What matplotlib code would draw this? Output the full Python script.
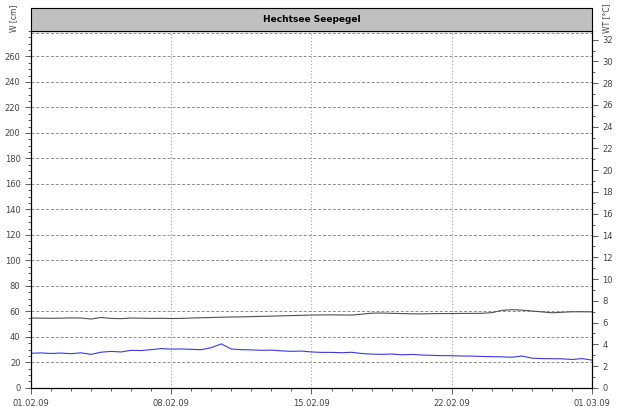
import numpy as np
import pandas as pd
import matplotlib
matplotlib.use("Agg")
import matplotlib.pyplot as plt
import matplotlib.dates as mdates

plt.rcParams['font.family'] = ['DejaVu Sans']

# half-daily readings 01.02.09 - 01.03.09
times = pd.date_range("2009-02-01", "2009-03-01", freq="12h")

# water level W [cm]
level = [54.8, 54.7, 54.6, 54.7, 54.9, 54.8, 54.0, 55.2, 54.5, 54.3,
         54.8, 54.7, 54.5, 54.6, 54.4, 54.5, 54.8, 55.0, 55.2, 55.4,
         55.6, 55.7, 55.9, 56.1, 56.3, 56.5, 56.7, 56.9, 57.1, 57.2,
         57.3, 57.2, 57.1, 57.8, 58.6, 58.7, 58.5, 58.3, 58.1, 58.0,
         58.2, 58.3, 58.3, 58.4, 58.4, 58.5, 59.0, 60.8, 61.3, 61.0,
         60.3, 59.6, 58.9, 59.3, 59.7, 59.7, 59.6]

# water temperature WT [°C]
temp = [3.18, 3.21, 3.16, 3.20, 3.14, 3.22, 3.08, 3.28, 3.35, 3.30,
        3.45, 3.43, 3.51, 3.61, 3.56, 3.58, 3.54, 3.51, 3.69, 4.04,
        3.57, 3.51, 3.49, 3.45, 3.47, 3.40, 3.36, 3.38, 3.30, 3.26,
        3.26, 3.23, 3.27, 3.16, 3.10, 3.08, 3.11, 3.04, 3.07, 3.02,
        2.99, 2.96, 2.95, 2.93, 2.92, 2.89, 2.87, 2.85, 2.81, 2.93,
        2.73, 2.69, 2.68, 2.67, 2.61, 2.69, 2.55]

title = "Hechtsee Seepegel"

fig = plt.figure(figsize=(6.18, 4.07), dpi=100)
ax = fig.add_axes([0.050, 0.047, 0.908, 0.877])
ax2 = ax.twinx()

ax.plot(times, level, color="#505050", lw=0.8)
ax2.plot(times, temp, color="#3a3ae0", lw=0.8)

ax.set_xlim(times[0], times[-1])
ax.set_ylim(0, 280)
ax2.set_ylim(0, 32.8)

ax.xaxis.set_major_locator(mdates.DayLocator(bymonthday=[1, 8, 15, 22]))
ax.xaxis.set_minor_locator(mdates.DayLocator())
ax.xaxis.set_major_formatter(mdates.DateFormatter("%d.%m.%y"))
ax.set_yticks(np.arange(0, 261, 20))
ax.set_yticks(np.arange(0, 281, 5), minor=True)
ax2.set_yticks(np.arange(0, 33, 2))
ax2.set_yticks(np.arange(0, 33, 1), minor=True)

for a in (ax, ax2):
    a.tick_params(which="both", labelsize=6, colors="#444444", width=0.6)
    a.tick_params(which="major", length=4)
    a.tick_params(which="minor", length=2)
    for s in a.spines.values():
        s.set_linewidth(0.8)
ax.tick_params(axis="x", pad=4)

ax.grid(axis="y", which="major", color="#8c8c8c", ls=(0, (3, 2)), lw=0.7)
ax.grid(axis="x", which="major", color="#a0a0a0", ls=(0, (1, 2)), lw=0.8)
ax.axhline(278, color="#8c8c8c", ls=(0, (3, 2)), lw=0.7)

# grey title band
tax = fig.add_axes([0.050, 0.924, 0.908, 0.057])
tax.set_facecolor("#c0c0c0")
tax.set_xticks([])
tax.set_yticks([])
for s in tax.spines.values():
    s.set_linewidth(0.8)
tax.text(0.5, 0.5, title, ha="center", va="center", fontsize=6.5,
         fontweight="bold", transform=tax.transAxes)

fig.text(0.022, 0.955, "W [cm]", rotation=90, ha="center", va="center",
         fontsize=5.5, color="#444444")
fig.text(0.981, 0.955, "WT [°C]", rotation=90, ha="center", va="center",
         fontsize=5.5, color="#444444")

plt.savefig("out.png", dpi=100)
